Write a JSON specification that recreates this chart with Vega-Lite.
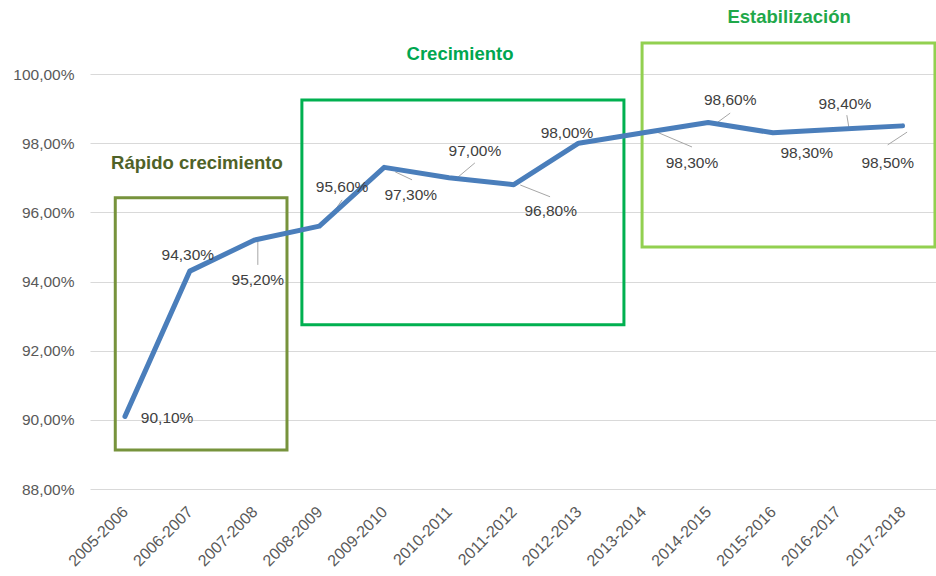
{
  "$schema": "https://vega.github.io/schema/vega-lite/v6.json",
  "autosize": "none",
  "width": 846,
  "height": 415,
  "padding": {"left": 90, "top": 74, "right": 0, "bottom": 87},
  "background": "white",
  "config": {"view": {"stroke": null}, "font": "Liberation Sans"},
  "datasets": {
    "series": [
      {"i": 0, "period": "2005-2006", "value": 90.1, "label": "90,10%", "lx": 0.65, "ly": 90.06},
      {"i": 1, "period": "2006-2007", "value": 94.3, "label": "94,30%", "lx": 0.97, "ly": 94.77},
      {"i": 2, "period": "2007-2008", "value": 95.2, "label": "95,20%", "lx": 2.05, "ly": 94.05},
      {"i": 3, "period": "2008-2009", "value": 95.6, "label": "95,60%", "lx": 3.35, "ly": 96.73},
      {"i": 4, "period": "2009-2010", "value": 97.3, "label": "97,30%", "lx": 4.41, "ly": 96.5},
      {"i": 5, "period": "2010-2011", "value": 97.0, "label": "97,00%", "lx": 5.4, "ly": 97.77},
      {"i": 6, "period": "2011-2012", "value": 96.8, "label": "96,80%", "lx": 6.57, "ly": 96.04},
      {"i": 7, "period": "2012-2013", "value": 98.0, "label": "98,00%", "lx": 6.82, "ly": 98.29},
      {"i": 8, "period": "2013-2014", "value": 98.3, "label": "98,30%", "lx": 8.75, "ly": 97.43},
      {"i": 9, "period": "2014-2015", "value": 98.6, "label": "98,60%", "lx": 9.34, "ly": 99.25},
      {"i": 10, "period": "2015-2016", "value": 98.3, "label": "98,30%", "lx": 10.52, "ly": 97.72},
      {"i": 11, "period": "2016-2017", "value": 98.4, "label": "98,40%", "lx": 11.11, "ly": 99.13},
      {"i": 12, "period": "2017-2018", "value": 98.5, "label": "98,50%", "lx": 11.77, "ly": 97.43}
    ],
    "leaders": [
      {"x1": 2.05, "y1": 95.23, "x2": 2.05, "y2": 94.48},
      {"x1": 3.17, "y1": 95.87, "x2": 3.35, "y2": 96.36},
      {"x1": 4.17, "y1": 97.17, "x2": 4.43, "y2": 96.94},
      {"x1": 5.14, "y1": 97.02, "x2": 5.4, "y2": 97.43},
      {"x1": 6.1, "y1": 96.79, "x2": 6.56, "y2": 96.45},
      {"x1": 8.21, "y1": 98.32, "x2": 8.75, "y2": 97.89},
      {"x1": 9.15, "y1": 98.61, "x2": 9.34, "y2": 98.87},
      {"x1": 11.14, "y1": 98.81, "x2": 11.17, "y2": 98.47},
      {"x1": 12.07, "y1": 98.32, "x2": 11.77, "y2": 97.95}
    ],
    "boxes": [
      {"name": "Rápido crecimiento", "x1": -0.15, "x2": 2.5, "y1": 89.13, "y2": 96.42, "tx": 1.11, "ty": 97.43, "box": "#77933c", "title": "#4f6228"},
      {"name": "Crecimiento", "x1": 2.73, "x2": 7.7, "y1": 92.75, "y2": 99.25, "tx": 5.17, "ty": 100.58, "box": "#00b050", "title": "#00a650"},
      {"name": "Estabilización", "x1": 7.98, "x2": 12.5, "y1": 95.0, "y2": 100.9, "tx": 10.25, "ty": 101.65, "box": "#92d050", "title": "#1fa84a"}
    ]
  },
  "layer": [
    {
      "data": {"name": "boxes"},
      "mark": {"type": "rect", "fill": null, "strokeWidth": 3, "clip": false},
      "encoding": {
        "x": {"field": "x1", "type": "quantitative", "scale": {"domain": [-0.54, 12.516], "nice": false, "zero": false},
              "axis": {"values": [0,1,2,3,4,5,6,7,8,9,10,11,12], "title": null, "grid": false, "domain": false, "ticks": false,
                       "labelOverlap": false, "labelBound": false, "labelFlush": false,
                       "labelExpr": "['2005-2006','2006-2007','2007-2008','2008-2009','2009-2010','2010-2011','2011-2012','2012-2013','2013-2014','2014-2015','2015-2016','2016-2017','2017-2018'][datum.value]",
                       "labelAngle": -45, "labelAlign": "right", "labelBaseline": "middle", "labelPadding": 20, "labelFontSize": 16, "labelColor": "#595959", "labelFont": "Liberation Sans"}},
        "x2": {"field": "x2"},
        "y": {"field": "y1", "type": "quantitative", "scale": {"domain": [88, 100], "nice": false, "zero": false},
              "axis": {"values": [88, 90, 92, 94, 96, 98, 100], "title": null, "domain": false, "ticks": false, "gridColor": "#d9d9d9", "gridWidth": 1,
                       "labelExpr": "replace(format(datum.value, '.2f'), '.', ',') + '%'", "labelPadding": 16, "labelFontSize": 15.5, "labelColor": "#595959", "labelFont": "Liberation Sans"}},
        "y2": {"field": "y2"},
        "stroke": {"field": "box", "type": "nominal", "scale": null}
      }
    },
    {
      "data": {"name": "boxes"},
      "mark": {"type": "text", "fontWeight": "bold", "fontSize": 18.5, "font": "Liberation Sans", "align": "center", "baseline": "middle", "clip": false},
      "encoding": {
        "x": {"field": "tx", "type": "quantitative"},
        "y": {"field": "ty", "type": "quantitative"},
        "text": {"field": "name"},
        "color": {"field": "title", "type": "nominal", "scale": null}
      }
    },
    {
      "data": {"name": "leaders"},
      "mark": {"type": "rule", "color": "#a6a6a6", "strokeWidth": 1},
      "encoding": {
        "x": {"field": "x1", "type": "quantitative"},
        "y": {"field": "y1", "type": "quantitative"},
        "x2": {"field": "x2"},
        "y2": {"field": "y2"}
      }
    },
    {
      "data": {"name": "series"},
      "mark": {"type": "line", "color": "#4a7ebb", "strokeWidth": 5, "strokeJoin": "round", "strokeCap": "round"},
      "encoding": {
        "x": {"field": "i", "type": "quantitative"},
        "y": {"field": "value", "type": "quantitative"}
      }
    },
    {
      "data": {"name": "series"},
      "mark": {"type": "text", "fontSize": 15.5, "font": "Liberation Sans", "color": "#404040", "align": "center", "baseline": "middle"},
      "encoding": {
        "x": {"field": "lx", "type": "quantitative"},
        "y": {"field": "ly", "type": "quantitative"},
        "text": {"field": "label"}
      }
    }
  ]
}
